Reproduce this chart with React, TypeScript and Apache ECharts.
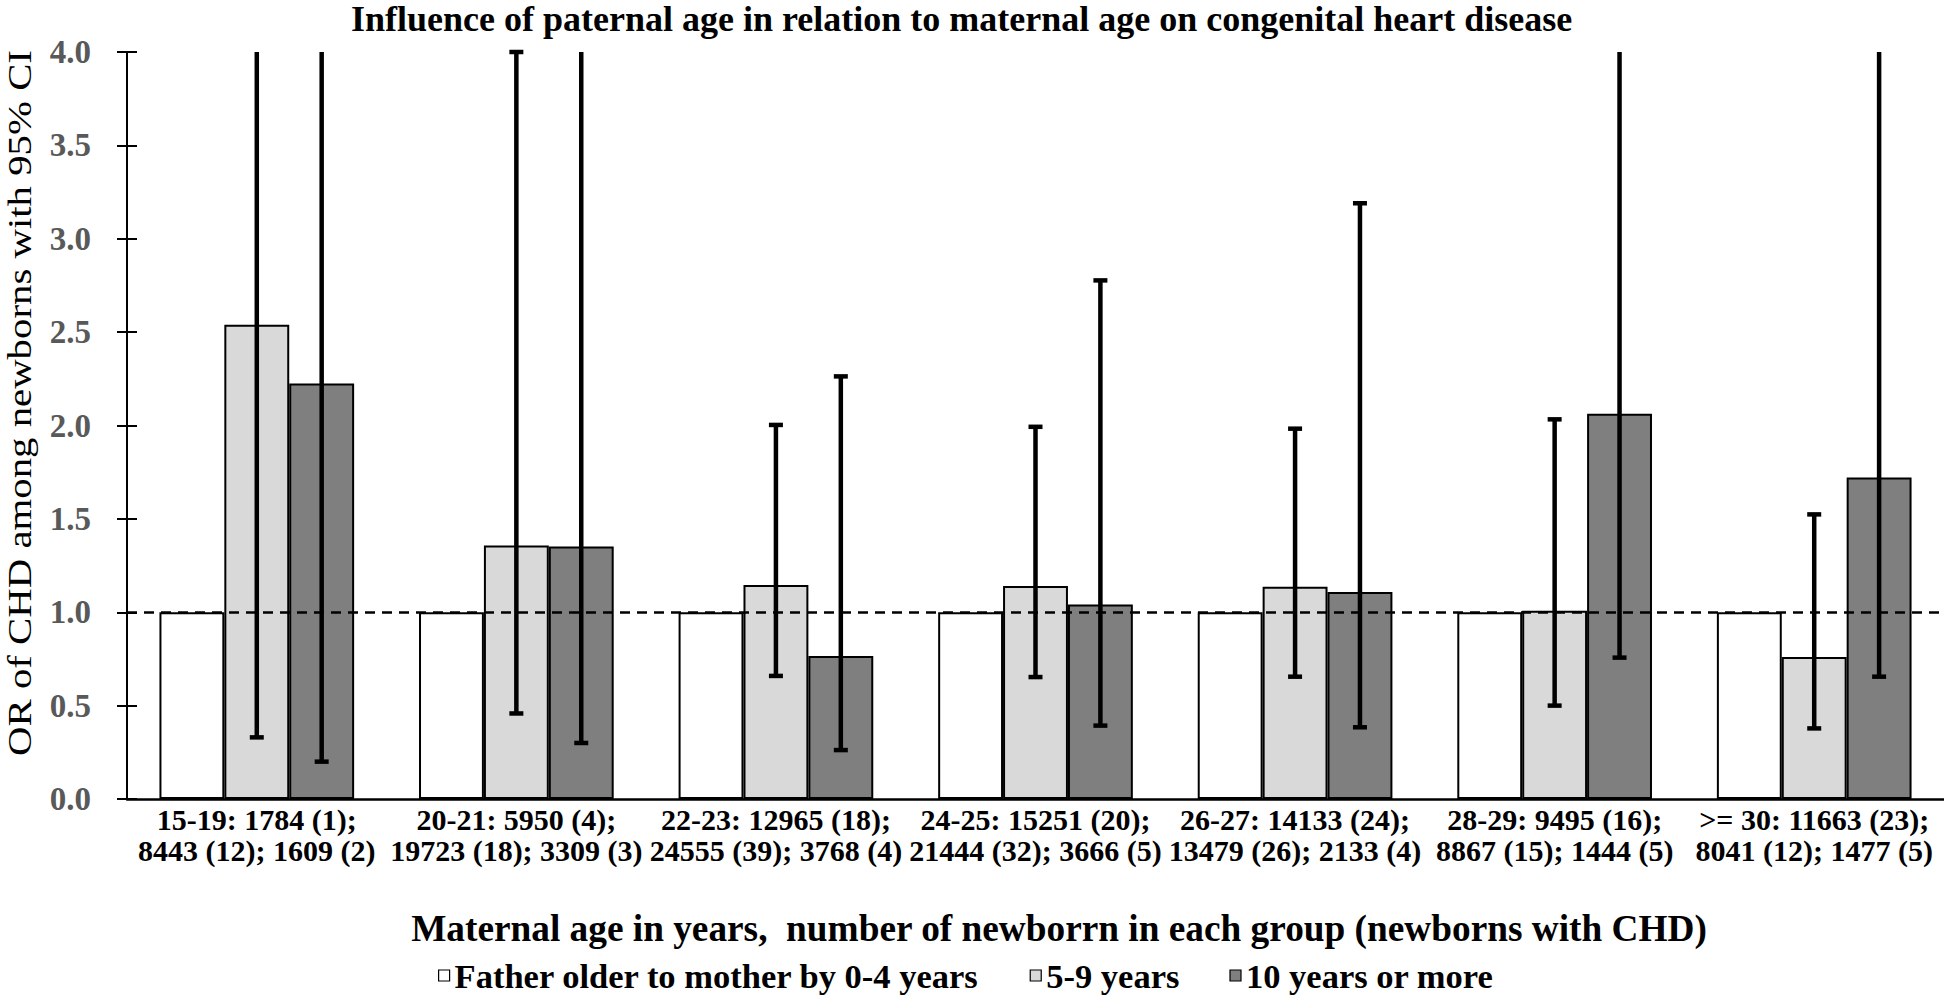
import React, { useEffect, useRef } from "react";
import * as echarts from "echarts";

const TITLE = "Influence of paternal age in relation to maternal age on congenital heart disease";
const X_NAME = "Maternal age in years,  number of newborrn in each group (newborns with CHD)";
const Y_NAME = "OR of CHD among newborns with 95% CI";

const categories = [
  "15-19: 1784 (1);\n8443 (12); 1609 (2)",
  "20-21: 5950 (4);\n19723 (18); 3309 (3)",
  "22-23: 12965 (18);\n24555 (39); 3768 (4)",
  "24-25: 15251 (20);\n21444 (32); 3666 (5)",
  "26-27: 14133 (24);\n13479 (26); 2133 (4)",
  "28-29: 9495 (16);\n8867 (15); 1444 (5)",
  ">= 30: 11663 (23);\n8041 (12); 1477 (5)",
];

const seriesNames = ["Father older to mother by 0-4 years", "5-9 years", "10 years or more"];

// Odds ratios
const or04 = [1, 1, 1, 1, 1, 1, 1];
const or59 = [2.54, 1.357, 1.146, 1.141, 1.137, 1.008, 0.76];
const or10 = [2.225, 1.352, 0.766, 1.041, 1.108, 2.063, 1.722];

// 95% CI bounds
const lo59 = [0.33, 0.458, 0.659, 0.653, 0.655, 0.5, 0.378];
const hi59 = [19.5, 4.0, 2.003, 1.993, 1.983, 2.033, 1.524];
const lo10 = [0.2, 0.3, 0.262, 0.393, 0.384, 0.757, 0.655];
const hi10 = [24.6, 6.1, 2.263, 2.777, 3.19, 5.6, 4.5];

// y axis ticks
const Y_MIN = 0;
const Y_MAX = 4;
const Y_STEP = 0.5;
const REF_LINE = 1;

const FONT = "'Liberation Serif', 'Times New Roman', Times, serif";
const BAR_CAT_GAP = 0.25;

function makeErrorSeries(name: string, lo: number[], hi: number[], offset: number) {
  return {
    type: "custom",
    name,
    z: 6,
    silent: true,
    clip: false,
    data: lo.map((l, i) => [i, l, hi[i]]),
    encode: { x: 0, y: [1, 2] },
    renderItem: (params: any, api: any) => {
      const i = api.value(0);
      const l = api.value(1);
      const h = api.value(2);
      const band = api.size([1, 0])[0];
      const bw = (band * (1 - BAR_CAT_GAP)) / 3;
      const pLo = api.coord([i, l]);
      const top = Math.min(h, Y_MAX);
      const pHi = api.coord([i, top]);
      const cx = pLo[0] + offset * bw;
      const style = { stroke: "#000", lineWidth: 4.5 };
      const half = 7;
      const children: any[] = [
        { type: "line", shape: { x1: cx, y1: pLo[1], x2: cx, y2: pHi[1] }, style },
        { type: "line", shape: { x1: cx - half, y1: pLo[1], x2: cx + half, y2: pLo[1] }, style },
      ];
      if (h <= Y_MAX) {
        children.push({ type: "line", shape: { x1: cx - half, y1: pHi[1], x2: cx + half, y2: pHi[1] }, style });
      }
      return { type: "group", children };
    },
  };
}

export default function App() {
  const ref = useRef<HTMLDivElement>(null);
  useEffect(() => {
    document.body.style.margin = "0";
    const chart = echarts.init(ref.current!, null, { renderer: "svg" });
    const barCommon = {
      type: "bar",
      barGap: "0%",
      barCategoryGap: BAR_CAT_GAP * 100 + "%",
      z: 2,
    };
    const option: any = {
      animation: false,
      backgroundColor: "#fff",
      title: {
        text: TITLE,
        left: 351,
        top: 1,
        padding: 0,
        textStyle: { fontFamily: FONT, fontWeight: "bold", fontSize: 36, color: "#000" },
      },
      legend: {
        data: seriesNames,
        top: 953,
        left: 433,
        itemWidth: 11,
        itemHeight: 11,
        itemGap: 50,
        icon: "rect",
        itemStyle: { borderColor: "#000", borderWidth: 1.2 },
        textStyle: {
          fontFamily: FONT,
          fontWeight: "bold",
          fontSize: 34.5,
          color: "#000",
        },
      },
      graphic: [
        {
          type: "text",
          x: 1059,
          y: 928,
          silent: true,
          style: {
            text: X_NAME,
            fontFamily: FONT,
            fontWeight: "bold",
            fontSize: 37.3,
            fill: "#000",
            align: "center",
            verticalAlign: "middle",
          },
        },
        {
          type: "text",
          x: 20,
          y: 403,
          rotation: Math.PI / 2,
          scaleX: 1.2,
          silent: true,
          style: {
            text: Y_NAME,
            fontFamily: FONT,
            fontSize: 34,
            lineHeight: 30,
            fill: "#000",
            align: "center",
            verticalAlign: "middle",
          },
        },
      ],
      grid: { left: 127, right: 0, top: 52, bottom: 197, containLabel: false },
      xAxis: {
        type: "category",
        data: categories,
        axisLine: { lineStyle: { color: "#000", width: 2.5 } },
        axisTick: { show: false },
        axisLabel: {
          interval: 0,
          fontFamily: FONT,
          fontWeight: "bold",
          fontSize: 30,
          lineHeight: 31,
          color: "#000",
          margin: 5,
        },
      },
      yAxis: [
        {
          type: "value",
          min: Y_MIN,
          max: Y_MAX,
          interval: Y_STEP,
          axisLine: { show: true, lineStyle: { color: "#000", width: 2 } },
          axisTick: { show: true, length: 10, lineStyle: { color: "#000", width: 2 } },
          splitLine: { show: false },
          axisLabel: {
            fontFamily: FONT,
            fontWeight: "bold",
            fontSize: 33,
            color: "#595959",
            margin: 36,
            formatter: (v: number) => v.toFixed(1),
          },
        },
        {
          type: "value",
          min: Y_MIN,
          max: Y_MAX,
          interval: Y_STEP,
          position: "left",
          axisLine: { show: false },
          axisTick: { show: true, inside: true, length: 10, lineStyle: { color: "#000", width: 2 } },
          axisLabel: { show: false },
          splitLine: { show: false },
        },
      ],
      series: [
        {
          ...barCommon,
          name: seriesNames[0],
          data: or04,
          itemStyle: { color: "#ffffff", borderColor: "#000", borderWidth: 2 },
        },
        {
          ...barCommon,
          name: seriesNames[1],
          data: or59,
          itemStyle: { color: "#d9d9d9", borderColor: "#000", borderWidth: 2 },
        },
        {
          ...barCommon,
          name: seriesNames[2],
          data: or10,
          itemStyle: { color: "#7f7f7f", borderColor: "#000", borderWidth: 2 },
          markLine: {
            silent: true,
            symbol: ["none", "none"],
            label: { show: false },
            lineStyle: { color: "#000", width: 2.5, type: [10, 7] },
            data: [{ yAxis: REF_LINE }],
          },
        },
        makeErrorSeries("err59", lo59, hi59, 0),
        makeErrorSeries("err10", lo10, hi10, 1),
      ],
    };
    chart.setOption(option);
    return () => chart.dispose();
  }, []);
  return <div ref={ref} style={{ position: "absolute", left: 0, top: 0, width: 1944, height: 996 }} />;
}
